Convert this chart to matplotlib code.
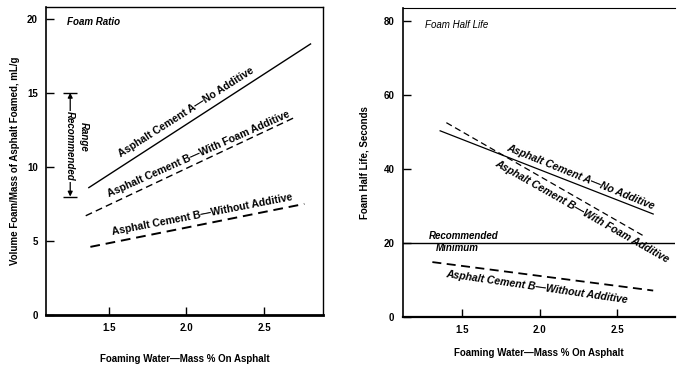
import matplotlib
matplotlib.use("Agg")
import matplotlib.pyplot as plt

plt.rcParams['font.family'] = ['Liberation Sans', 'DejaVu Sans']

# ---- data ----
# Left panel: Foam ratio (mL/g)
ratio_A_x = [1.37, 2.80]
ratio_A_y = [8.6, 18.3]
ratio_Bf_x = [1.35, 2.71]
ratio_Bf_y = [6.7, 13.4]
ratio_Bn_x = [1.38, 2.76]
ratio_Bn_y = [4.6, 7.5]
rec_range = [8, 15]

# Right panel: Foam half life (s)
hl_A_x = [1.36, 2.73]
hl_A_y = [50.3, 27.8]
hl_Bf_x = [1.40, 2.68]
hl_Bf_y = [52.5, 21.6]
hl_Bn_x = [1.31, 2.73]
hl_Bn_y = [14.8, 7.1]
rec_min = 20

x_ticks = [1.5, 2.0, 2.5]
x_ticklabels = ['1.5', '2.0', '2.5']
y1_ticks = [0, 5, 10, 15, 20]
y2_ticks = [0, 20, 40, 60, 80]

fig = plt.figure(figsize=(6.77, 3.65), dpi=100)
ax1 = fig.add_axes([0.068, 0.137, 0.409, 0.844])
ax2 = fig.add_axes([0.595, 0.132, 0.402, 0.846])

fs = 7
lfs = 7.6
bi = dict(fontweight='bold', fontstyle='italic')

# ---- Left panel ----
ax1.plot(ratio_A_x, ratio_A_y, color='black', lw=1.0)
ax1.plot(ratio_Bf_x, ratio_Bf_y, color='black', lw=1.0, dashes=(5, 3))
ax1.plot(ratio_Bn_x, ratio_Bn_y, color='black', lw=1.4, dashes=(5, 3))
ax1.set_xlim(1.094, 2.88)
ax1.set_ylim(0, 20.8)
ax1.set_xticks(x_ticks)
ax1.set_xticklabels(x_ticklabels)
ax1.set_yticks(y1_ticks)
ax1.tick_params(direction='in', length=6, width=1, labelsize=fs, pad=6)
for lab in ax1.get_xticklabels() + ax1.get_yticklabels():
    lab.set_fontweight('bold')
for s in ax1.spines.values():
    s.set_linewidth(1.0)
ax1.spines['bottom'].set_linewidth(2.0)
ax1.spines['left'].set_linewidth(1.2)
ax1.set_ylabel('Volume Foam/Mass of Asphalt Foamed, mL/g', fontsize=fs, fontweight='bold', labelpad=5)
ax1.set_xlabel('Foaming Water\u2014Mass % On Asphalt', fontsize=fs, fontweight='bold', labelpad=15)

ax1.text(1.23, 19.8, 'Foam Ratio', fontsize=fs, va='center', ha='left', **bi)

# recommended range bar
xr = 1.25
ax1.annotate('', xy=(xr, rec_range[1]), xytext=(xr, rec_range[0]),
             arrowprops=dict(arrowstyle='<|-|>', color='black', lw=0.9,
                             mutation_scale=7, shrinkA=0, shrinkB=0))
ax1.hlines(rec_range, xr - 0.045, xr + 0.045, color='black', lw=1.0)
ax1.text(xr, 11.4, 'Recommended', rotation=-90, fontsize=fs, ha='center', va='center',
         bbox=dict(facecolor='white', edgecolor='none', pad=0.5), **bi)
ax1.text(xr + 0.085, 12.0, 'Range', rotation=-90, fontsize=fs, ha='center', va='center', **bi)

ax1.text(2.0, 13.7, 'Asphalt Cement A\u2014No Additive', rotation=32.5, fontsize=lfs,
         ha='center', va='center', rotation_mode='anchor', fontweight='bold')
ax1.text(2.08, 10.85, 'Asphalt Cement B\u2014With Foam Additive', rotation=24, fontsize=lfs,
         ha='center', va='center', rotation_mode='anchor', fontweight='bold')
ax1.text(2.1, 6.75, 'Asphalt Cement B\u2014Without Additive', rotation=11, fontsize=lfs,
         ha='center', va='center', rotation_mode='anchor', fontweight='heavy')

# ---- Right panel ----
ax2.plot(hl_A_x, hl_A_y, color='black', lw=0.9)
ax2.plot(hl_Bf_x, hl_Bf_y, color='black', lw=0.9, dashes=(5, 3))
ax2.plot(hl_Bn_x, hl_Bn_y, color='black', lw=1.3, dashes=(5, 3))
ax2.axhline(rec_min, color='black', lw=1.0)
ax2.set_xlim(1.12, 2.87)
ax2.set_ylim(0, 83.5)
ax2.set_xticks(x_ticks)
ax2.set_xticklabels(x_ticklabels)
ax2.set_yticks(y2_ticks)
ax2.tick_params(direction='in', length=6, width=1, labelsize=fs, pad=6)
for lab in ax2.get_xticklabels() + ax2.get_yticklabels():
    lab.set_fontweight('bold')
ax2.spines['right'].set_visible(False)
ax2.spines['top'].set_linewidth(0.8)
ax2.spines['bottom'].set_linewidth(1.6)
ax2.spines['left'].set_linewidth(1.2)
ax2.set_ylabel('Foam Half Life, Seconds', fontsize=fs, fontweight='bold', labelpad=10)
ax2.set_xlabel('Foaming Water\u2014Mass % On Asphalt', fontsize=fs, fontweight='bold', labelpad=9)

ax2.text(1.26, 79, 'Foam Half Life', fontsize=fs, va='center', ha='left', fontstyle='italic')
ax2.text(1.51, 21.9, 'Recommended', fontsize=fs, ha='center', va='center', **bi)
ax2.text(1.47, 18.5, 'Minimum', fontsize=fs, ha='center', va='center', **bi)

ax2.text(2.26, 37.8, 'Asphalt Cement A\u2014No Additive', rotation=-22, fontsize=lfs,
         ha='center', va='center', rotation_mode='anchor', fontweight='bold', fontstyle='italic')
ax2.text(2.27, 28.4, 'Asphalt Cement B\u2014With Foam Additive', rotation=-29.5, fontsize=lfs,
         ha='center', va='center', rotation_mode='anchor', fontweight='bold', fontstyle='italic')
ax2.text(1.98, 8.1, 'Asphalt Cement B\u2014Without Additive', rotation=-8.2, fontsize=lfs,
         ha='center', va='center', rotation_mode='anchor', fontweight='heavy', fontstyle='italic')

fig.savefig('out.png', dpi=100)
